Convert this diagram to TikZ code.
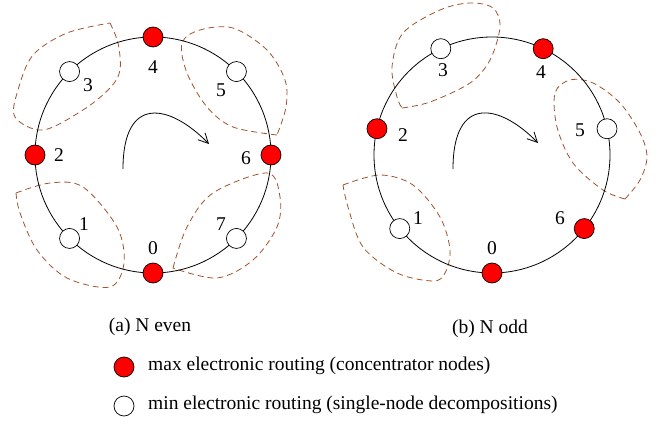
\documentclass[tikz,border=0pt]{standalone}
\usepackage{fontspec}
\setmainfont{Liberation Serif}
\usetikzlibrary{arrows.meta}

\definecolor{loopbrown}{RGB}{160,82,45}

\newcommand*{\ringrad}{118}
\newcommand*{\ptrad}{10}

\begin{document}
\begin{tikzpicture}
[
	x=1pt, y=1pt,
	maxpt/.style={circle,draw,fill=red,line width=0.7pt,inner sep=0pt,minimum size=2*\ptrad pt},
	minpt/.style={circle,draw,fill=white,line width=0.7pt,inner sep=0pt,minimum size=2*\ptrad pt},
	ring/.style={line width=0.8pt},
	decomp/.style={loopbrown,line width=0.8pt,dash pattern=on 6pt off 4pt},
	lbl/.style={inner sep=0pt,font=\fontsize{19.5}{22}\selectfont},
	turn/.style={line width=0.8pt,-{Straight Barb[length=10pt,width=10pt]}}
]

	\useasboundingbox (0,0) rectangle (659,424);

	% ring centres
	\coordinate (cL) at (153,269);
	\coordinate (cR) at (492,269);

	% dashed decompositions, N even
	\draw[decomp] plot[smooth,tension=0.55] coordinates {(110,401) (118,381) (120,354) (110,336) (83,314) (43,294) (15,307) (18,334) (33,369) (67,391) (110,401)};
	\draw[decomp] plot[smooth,tension=0.55] coordinates {(277,289) (233,297) (207,317) (187,351) (182,381) (200,394) (233,396) (267,374) (285,344) (286,317) (277,289)};
	\draw[decomp] plot[smooth,tension=0.55] coordinates {(16,231) (50,241) (83,237) (117,197) (124,161) (110,137) (67,146) (37,174) (20,211) (16,231)};
	\draw[decomp] plot[smooth,tension=0.55] coordinates {(173,156) (187,197) (213,231) (267,251) (280,227) (277,197) (253,164) (217,146) (173,156)};

	% dashed decompositions, N odd
	\draw[decomp] plot[smooth,tension=0.55] coordinates {(402,316) (430,322) (470,341) (490,364) (500,397) (493,416) (470,421) (440,414) (403,391) (392,357) (397,327) (402,316)};
	\draw[decomp] plot[smooth,tension=0.55] coordinates {(625,225) (603,234) (573,261) (557,297) (555,331) (570,344) (593,341) (620,321) (640,291) (647,267) (640,244) (625,225)};
	\draw[decomp] plot[smooth,tension=0.55] coordinates {(343,239) (380,249) (413,239) (440,207) (450,174) (445,151) (433,143) (397,151) (363,177) (348,217) (343,239)};

	% rings
	\draw[ring] (cL) circle (\ringrad);
	\draw[ring] (cR) circle (\ringrad);

	% nodes, N even
	\foreach \k in {0,2,4,6} {
		\node[maxpt] (a\k) at ([shift={(270-45*\k:\ringrad)}]cL) {};
	}
	\foreach \k in {1,3,5,7} {
		\node[minpt] (a\k) at ([shift={(270-45*\k:\ringrad)}]cL) {};
	}

	% nodes, N odd
	\foreach \k in {0,2,4,6} {
		\node[maxpt] (b\k) at ([shift={(270-360/7*\k:\ringrad)}]cR) {};
	}
	\foreach \k in {1,3,5} {
		\node[minpt] (b\k) at ([shift={(270-360/7*\k:\ringrad)}]cR) {};
	}

	% node numbers
	\node[lbl] (la0) at (153,176) {0};
	\node[lbl] (la1) at (84,200) {1};
	\node[lbl] (la2) at (59,269) {2};
	\node[lbl] (la3) at (88,339) {3};
	\node[lbl] (la4) at (153,357) {4};
	\node[lbl] (la5) at (221,334) {5};
	\node[lbl] (la6) at (246,266) {6};
	\node[lbl] (la7) at (221,200) {7};

	\node[lbl] (lb0) at (492,176) {0};
	\node[lbl] (lb1) at (418,206) {1};
	\node[lbl] (lb2) at (403,289) {2};
	\node[lbl] (lb3) at (443,354) {3};
	\node[lbl] (lb4) at (541,352) {4};
	\node[lbl] (lb5) at (580,294) {5};
	\node[lbl] (lb6) at (560,206) {6};

	% direction arrows
	\coordinate (ta) at (123,255);
	\coordinate (tb) at (209,280);
	\draw[turn] (ta) .. controls (123,330) and (170,320) .. (tb);
	\coordinate (ua) at (453,255);
	\coordinate (ub) at (538,281);
	\draw[turn] (ua) .. controls (453,330) and (500,320) .. (ub);

	% captions
	\node[lbl] (capa) at (150,97) {(a) N even};
	\node[lbl] (capb) at (490,95) {(b) N odd};

	% legend
	\node[maxpt] (keymax) at (124,57) {};
	\node[lbl,anchor=west] (txtmax) at (148,58) {max electronic routing (concentrator nodes)};
	\node[minpt] (keymin) at (124,18) {};
	\node[lbl,anchor=west] (txtmin) at (148,19) {min electronic routing (single-node decompositions)};

\end{tikzpicture}
\end{document}
